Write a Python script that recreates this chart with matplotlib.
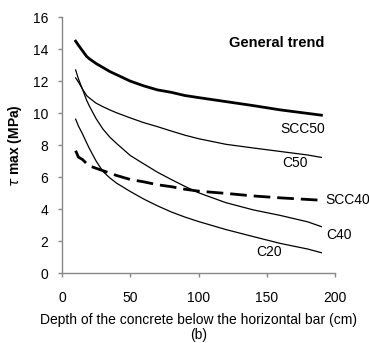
import numpy as np
import matplotlib
matplotlib.use('Agg')
import matplotlib.pyplot as plt

plt.rcParams['font.family'] = ['Liberation Sans', 'DejaVu Sans']

# depth of the concrete below the horizontal bar (cm)
depth = [10, 12, 15, 18, 20, 25, 30, 35, 40, 50, 60, 70, 80, 90, 100, 120, 140, 160, 180, 190]

# tau max (MPa)
scc50 = [14.5, 14.25, 13.9, 13.55, 13.4, 13.1, 12.85, 12.6, 12.4, 12.0, 11.7, 11.45, 11.3,
         11.1, 10.97, 10.72, 10.47, 10.2, 9.98, 9.87]
c50 = [12.2, 11.95, 11.5, 11.1, 10.95, 10.62, 10.4, 10.2, 10.02, 9.7, 9.4, 9.15, 8.88,
       8.62, 8.4, 8.05, 7.82, 7.6, 7.38, 7.23]
c40 = [12.7, 12.15, 11.5, 10.81, 10.45, 9.65, 9.0, 8.5, 8.1, 7.35, 6.82, 6.3, 5.85,
       5.42, 5.02, 4.4, 3.95, 3.6, 3.2, 2.9]
c20 = [9.62, 9.2, 8.7, 8.15, 7.8, 7.0, 6.35, 5.95, 5.62, 5.1, 4.62, 4.2, 3.82,
       3.5, 3.22, 2.72, 2.28, 1.85, 1.5, 1.27]
scc40 = [7.65, 7.25, 7.1, 6.85, 6.7, 6.55, 6.4, 6.25, 6.1, 5.85, 5.7, 5.52, 5.4,
         5.24, 5.12, 4.98, 4.82, 4.7, 4.6, 4.55]

fig = plt.figure(figsize=(3.69, 3.43), dpi=100)
ax = fig.add_axes([0.168, 0.204, 0.74, 0.746])

ax.plot(depth, scc50, color='black', lw=2.0)
ax.plot(depth, c50, color='black', lw=0.9)
ax.plot(depth, c40, color='black', lw=0.9)
ax.plot(depth, c20, color='black', lw=0.9)
ax.plot(depth, scc40, color='black', lw=2.0, dashes=(6, 2.5))

ax.set_xlim(0, 200)
ax.set_ylim(0, 16)
ax.set_xticks([0, 50, 100, 150, 200])
ax.set_yticks(range(0, 17, 2))
for s in ['top', 'right']:
    ax.spines[s].set_visible(False)
for s in ['left', 'bottom']:
    ax.spines[s].set_color('#888888')
    ax.spines[s].set_linewidth(1.0)
ax.tick_params(axis='both', direction='out', length=3, width=1.0, color='#888888',
               labelsize=10)
ax.tick_params(axis='y', pad=7)
ax.tick_params(axis='x', pad=10)

ax.set_ylabel(r'$\tau$ max (MPa)', fontsize=10, fontweight='bold', labelpad=6)
ax.set_xlabel('Depth of the concrete below the horizontal bar (cm)\n(b)',
              fontsize=10, linespacing=1.05, labelpad=6)

ax.text(157, 14.4, 'General trend', fontsize=10.5, fontweight='bold', ha='center', va='center')
ax.text(176, 9.0, 'SCC50', fontsize=10, ha='center', va='center')
ax.text(171, 6.9, 'C50', fontsize=10, ha='center', va='center')
ax.text(193, 4.56, 'SCC40', fontsize=10, ha='left', va='center', clip_on=False)
ax.text(203, 2.4, 'C40', fontsize=10, ha='center', va='center', clip_on=False)
ax.text(152, 1.3, 'C20', fontsize=10, ha='center', va='center')

fig.savefig('out.png', dpi=100)
